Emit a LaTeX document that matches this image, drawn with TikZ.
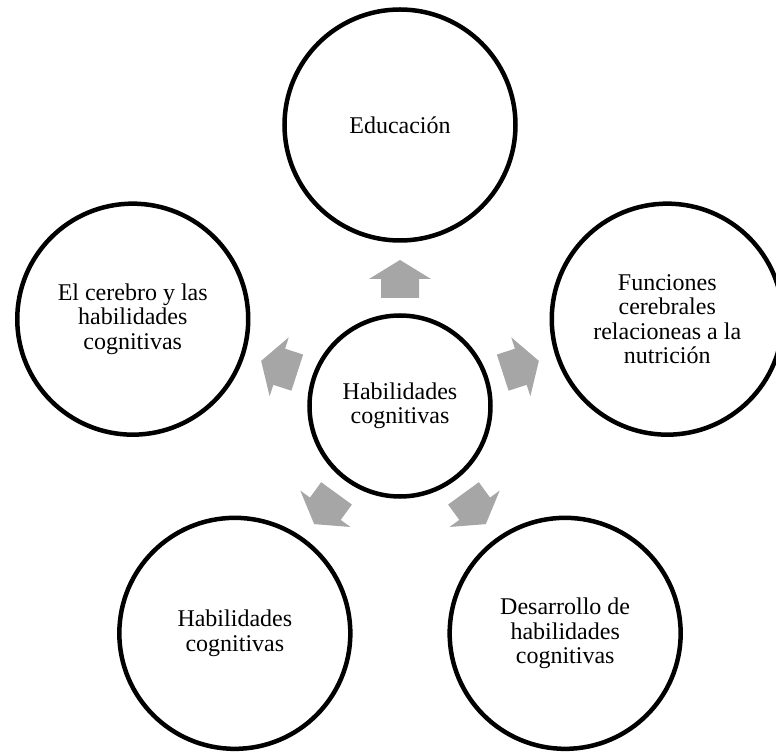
\documentclass[tikz,border=0pt]{standalone}
\usepackage{fontspec}
\setmainfont{Liberation Serif}
\usetikzlibrary{positioning,calc}

\begin{document}
\begin{tikzpicture}[
x=1pt,
y=1pt,
topic/.style={
  draw,
  circle,
  line width=4.5pt,
  minimum size=231pt,
  inner sep=0pt,
  align=center,
  font=\fontsize{24}{24.5}\selectfont
  },
core/.style={
  topic,
  minimum size=181pt
  },
blockarrow/.pic={
  \fill[black!35] (-19,-19) -- (0,-19) -- (0,-31) -- (19,0)
    -- (0,31) -- (0,19) -- (-19,19) -- cycle;
  }
]
\useasboundingbox (-400,-349) rectangle (376,406);
\clip (-400,-349) rectangle (376,406);

\node[core] (hub) at (0,0) {Habilidades\\cognitivas};

\node[topic] (edu)  at (90:281)   {Educación};
\node[topic] (func) at (18:281)   {Funciones\\cerebrales\\relacioneas a la\\nutrición};
\node[topic] (desa) at (-54:281)  {Desarrollo de\\habilidades\\cognitivas};
\node[topic] (habi) at (-126:281) {Habilidades\\cognitivas};
\node[topic] (cere) at (162:281)  {El cerebro y las\\habilidades\\cognitivas};

% block arrows pointing out of the hub
\foreach \n/\a in {edu/90,func/18,desa/-54,habi/-126,cere/162}
  \pic[rotate=\a] at ($(hub)!127pt!(\n)$) {blockarrow};
\end{tikzpicture}
\end{document}
